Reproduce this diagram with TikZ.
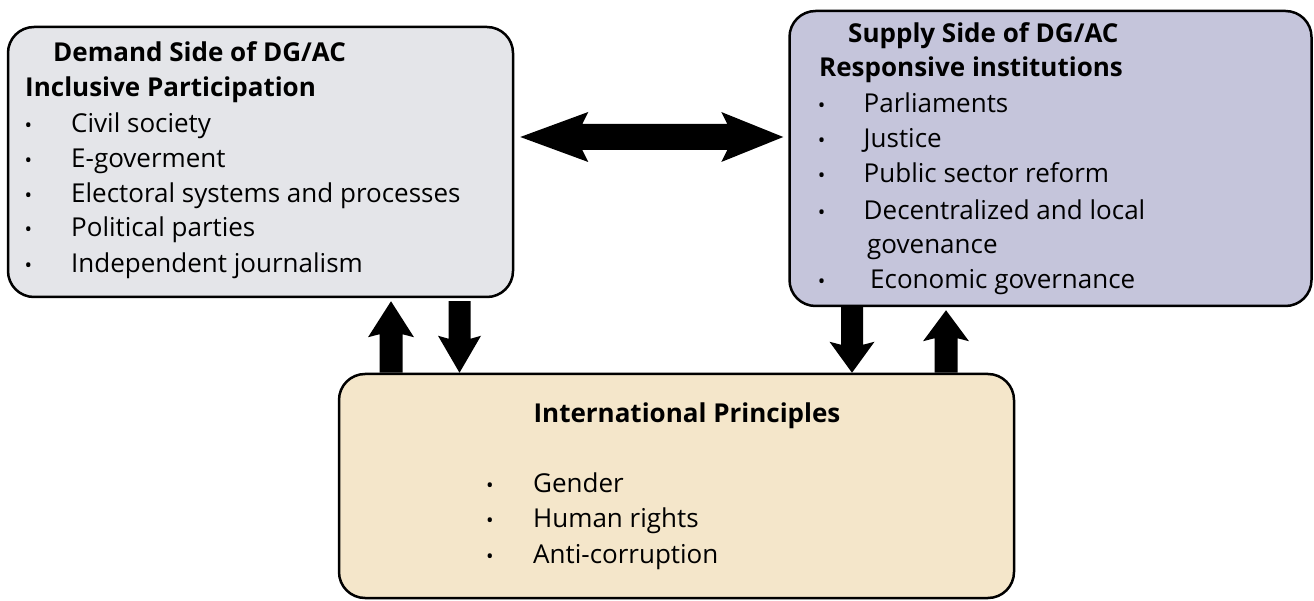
\documentclass[tikz,border=0pt]{standalone}
\usepackage{fontspec}
\setmainfont{Open Sans}
\usetikzlibrary{calc}
\definecolor{lfill}{RGB}{228,229,233}
\definecolor{rfill}{RGB}{197,197,219}
\definecolor{bfill}{RGB}{244,230,202}
% #1 from, #2 to, #3 shaft half width, #4 head half width, #5 head length, #6 barb sweep
\newcommand\blockarrow[6]{%
  \fill[black] let \p1=(#1), \p2=(#2), \n1={atan2(\y2-\y1,\x2-\x1)}, \n2={veclen(\x2-\x1,\y2-\y1)} in
    [shift={(\p1)}, rotate=\n1]
    (0,#3) -- (\n2-#5+#6,#3) -- (\n2-#5,#4) -- (\n2,0) -- (\n2-#5,-#4) -- (\n2-#5+#6,-#3) -- (0,-#3) -- cycle;}
\begin{document}
\begin{tikzpicture}[x=1pt,y=1pt,
  box/.style={draw=black, line width=2.5pt, rounded corners=26pt, inner sep=0pt},
  txt/.style={inner sep=0pt, anchor=base west, font=\fontsize{26}{30}\selectfont},
  ttl/.style={inner sep=0pt, anchor=base west, font=\fontsize{26}{30}\selectfont\bfseries},
  bul/.style={inner sep=0pt, anchor=base, font=\fontsize{20}{24}\selectfont}]
\useasboundingbox (0,0) rectangle (1314,600);

% boxes
\node[box, fill=lfill, minimum width=505pt, minimum height=270pt] (L) at (260.5,438) {};
\node[box, fill=rfill, minimum width=522pt, minimum height=295pt] (R) at (1050.5,441.5) {};
\node[box, fill=bfill, minimum width=675pt, minimum height=224pt] (B) at (676.5,114) {};

% left text
\node[ttl] (l0) at (53,538) {Demand Side of DG/AC};
\node[ttl] (l1) at (25,503) {Inclusive Participation};
\node[bul] (lb1) at (28.5,467) {\textbullet};
\node[txt] (lt1) at (71,467) {Civil society};
\node[bul] (lb2) at (28.5,432) {\textbullet};
\node[txt] (lt2) at (71,432) {E-goverment};
\node[bul] (lb3) at (28.5,397) {\textbullet};
\node[txt] (lt3) at (71,397) {Electoral systems and processes};
\node[bul] (lb4) at (28.5,363) {\textbullet};
\node[txt] (lt4) at (71,363) {Political parties};
\node[bul] (lb5) at (28.5,327) {\textbullet};
\node[txt] (lt5) at (71,327) {Independent journalism};

% right text
\node[ttl] (r0) at (848,557) {Supply Side of DG/AC};
\node[ttl] (r1) at (819,523) {Responsive institutions};
\node[bul] (rb1) at (821.5,487) {\textbullet};
\node[txt] (rt1) at (863.5,487) {Parliaments};
\node[bul] (rb2) at (821.5,452) {\textbullet};
\node[txt] (rt2) at (863.5,452) {Justice};
\node[bul] (rb3) at (821.5,417) {\textbullet};
\node[txt] (rt3) at (863.5,417) {Public sector reform};
\node[bul] (rb4) at (821.5,380) {\textbullet};
\node[txt] (rt4) at (863.5,380) {Decentralized and local};
\node[txt] (rt4b) at (867,346) {govenance};
\node[bul] (rb5) at (821.5,311) {\textbullet};
\node[txt] (rt5) at (870,311) {Economic governance};

% bottom text
\node[ttl, anchor=base] (b0) at (687,177) {International Principles};
\node[bul] (bb1) at (490,108) {\textbullet};
\node[txt] (bt1) at (533,108) {Gender};
\node[bul] (bb2) at (490,73) {\textbullet};
\node[txt] (bt2) at (533,73) {Human rights};
\node[bul] (bb3) at (490,37) {\textbullet};
\node[txt] (bt3) at (533,37) {Anti-corruption};

% arrow anchor coordinates
\coordinate (hc) at (660,463);
\coordinate (hl) at ($(L.east |- hc)+(6,0)$);
\coordinate (hr) at ($(R.west |- hc)+(-5,0)$);
\coordinate (x1) at (391,0);
\coordinate (x2) at (459.5,0);
\coordinate (x3) at (852,0);
\coordinate (x4) at (946,0);
\coordinate (a1s) at (B.north -| x1);
\coordinate (a1e) at ($(L.south -| x1)+(0,-3)$);
\coordinate (a2s) at ($(L.south -| x2)+(0,-3)$);
\coordinate (a2e) at (B.north -| x2);
\coordinate (a3s) at (R.south -| x3);
\coordinate (a3e) at (B.north -| x3);
\coordinate (a4s) at (B.north -| x4);
\coordinate (a4e) at ($(R.south -| x4)+(0,-3)$);

% arrows
\blockarrow{hc}{hl}{13}{25}{68}{6}
\blockarrow{hc}{hr}{13}{25}{62}{6}
\blockarrow{a1s}{a1e}{11.5}{23}{36}{3}
\blockarrow{a2s}{a2e}{11}{21.5}{37}{3}
\blockarrow{a3s}{a3e}{11}{22.5}{31}{3}
\blockarrow{a4s}{a4e}{11.5}{23}{31}{3}
\end{tikzpicture}
\end{document}
